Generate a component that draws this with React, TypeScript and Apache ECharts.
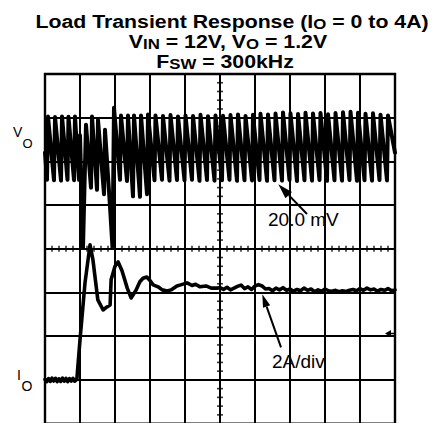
import React, { useEffect, useRef } from "react";
import * as echarts from "echarts";

// ---- Data (x in time divisions 0..10) ----
// V_O trace: [time (div), deviation (mV)] at 20 mV/div
const VO_TRACE: [number, number][] = [
  [0.0, 4], [0.057, -8.4], [0.086, 20.5], [0.257, -8.6], [0.286, 20.3], [0.457, -8.8], [0.486, 20.6],
  [0.643, -8.4], [0.671, 20.4], [0.829, -8.6], [0.857, 20.5],
  [0.971, -8.4], [1.0, 12], [1.086, -39.5], [1.171, 16.8], [1.314, -12], [1.343, 20.5], [1.486, -13],
  [1.514, 19], [1.686, -15], [1.714, 14.5], [1.857, -20.7], [1.929, -39.5], [1.971, 24.6], [2.143, -8.4],
  [2.171, 21], [2.343, -9], [2.371, 21], [2.514, -16], [2.543, 21], [2.714, -16.2], [2.743, 21],
  [2.914, -15], [2.943, 21.5],
  [3.129, -8.6], [3.157, 21], [3.343, -8.4], [3.371, 20.8], [3.557, -8.8], [3.586, 21.2], [3.771, -8.5],
  [3.8, 20.6], [3.986, -8.7], [4.014, 21], [4.2, -8.4], [4.229, 20.8], [4.414, -8.9], [4.443, 21.3],
  [4.629, -8.5], [4.657, 20.7], [4.843, -8.8], [4.871, 21], [5.057, -8.6], [5.086, 20.9], [5.271, -8.4],
  [5.3, 21.2], [5.486, -8.9], [5.514, 21.5], [5.7, -8.6], [5.729, 20.8], [5.914, -8.7], [5.943, 21.4],
  [6.129, -8.5], [6.157, 21.8], [6.343, -8.9], [6.371, 21.5], [6.557, -8.6], [6.586, 21.9], [6.771, -8.8],
  [6.8, 22.4], [6.986, -8.5], [7.014, 22], [7.2, -9], [7.229, 21.7], [7.414, -8.6], [7.443, 22.3],
  [7.629, -8.8], [7.657, 21.9], [7.843, -8.5], [7.871, 22.2], [8.057, -8.9], [8.086, 21.6], [8.271, -8.6],
  [8.3, 22.1], [8.486, -8.8], [8.514, 22.5], [8.7, -8.5], [8.729, 22.7], [8.914, -8.9], [8.943, 22.3],
  [9.129, -8.6], [9.157, 21.8], [9.343, -8.8], [9.371, 22], [9.557, -8.5], [9.586, 21.4], [9.771, -8.7],
  [9.8, 21], [10.0, 4],
];

// I_O trace: [time (div), current (A)] at 2 A/div
const IO_TRACE: [number, number][] = [
  [0, 0.02], [0.05, -0.08], [0.1, 0.06], [0.15, -0.07], [0.2, 0.08], [0.25, -0.05], [0.3, 0.07],
  [0.35, -0.08], [0.4, 0.05], [0.45, -0.07], [0.5, 0.08], [0.55, -0.06], [0.6, 0.07], [0.65, -0.08],
  [0.7, 0.06], [0.75, -0.05], [0.8, 0.07], [0.85, -0.06], [0.91, 0.02],
  [1.0, 1.83], [1.143, 4.44], [1.286, 6.18], [1.37, 5.49], [1.51, 3.66], [1.66, 3.2], [1.77, 3.34],
  [1.86, 3.43], [1.89, 4.6], [2.0, 5.2], [2.09, 5.4], [2.2, 5.0], [2.35, 4.2], [2.46, 3.75], [2.6, 4.1],
  [2.71, 4.49], [2.8, 4.65], [2.91, 4.71], [3.0, 4.55], [3.09, 4.35], [3.23, 4.26], [3.35, 4.12],
  [3.49, 4.07], [3.6, 4.12], [3.77, 4.3], [3.9, 4.36], [4.06, 4.44], [4.2, 4.32], [4.3, 4.38],
  [4.43, 4.26], [4.6, 4.3], [4.75, 4.2], [4.91, 4.2],
  [5.0, 4.22], [5.1, 4.14], [5.2, 4.24], [5.3, 4.12], [5.4, 4.2], [5.5, 4.28], [5.6, 4.34], [5.7, 4.18],
  [5.8, 4.26], [5.9, 4.14], [6.0, 4.3], [6.1, 4.36], [6.2, 4.3], [6.3, 4.16], [6.4, 4.18], [6.5, 4.08],
  [6.6, 4.2], [6.7, 4.12], [6.8, 4.22], [6.9, 4.1], [7.0, 4.16], [7.1, 4.06], [7.2, 4.14], [7.3, 4.08],
  [7.4, 4.2], [7.5, 4.1], [7.6, 4.16], [7.7, 4.04], [7.8, 4.12], [7.9, 4.06], [8.0, 4.16], [8.1, 4.08],
  [8.2, 4.06], [8.3, 4.1], [8.4, 4.04], [8.5, 4.08], [8.6, 4.05], [8.7, 4.1], [8.8, 4.14], [8.9, 4.08],
  [9.0, 4.18], [9.1, 4.1], [9.2, 4.2], [9.3, 4.12], [9.4, 4.16], [9.5, 4.06], [9.6, 4.14], [9.7, 4.1],
  [9.8, 4.18], [9.9, 4.08], [10.0, 4.12],
];

const VO_MV_PER_DIV = 20;
const VO_REF_DIV = 2;
const IO_A_PER_DIV = 2;
const IO_REF_DIV = -3;

const TITLE_1 = "{m|Load Transient Response (I}{s|O}{m| = 0 to 4A)}";
const TITLE_2 = "{m|V}{s|IN}{m| = 12V, V}{s|O}{m| = 1.2V}";
const TITLE_3 = "{m|F}{s|SW}{m| = 300kHz}";
const VO_LABEL = "20.0 mV";
const IO_LABEL = "2A/div";

const FONT = "'Liberation Sans', Arial, Helvetica, sans-serif";

function arrow(tail: [number, number], tip: [number, number], len: number, half: number) {
  const dx = tip[0] - tail[0];
  const dy = tip[1] - tail[1];
  const d = Math.hypot(dx, dy);
  const ux = dx / d, uy = dy / d;
  const bx = tip[0] - ux * len, by = tip[1] - uy * len;
  const px = -uy, py = ux;
  return [
    { type: "line", shape: { x1: tail[0], y1: tail[1], x2: bx, y2: by }, style: { stroke: "#000", lineWidth: 2 } },
    {
      type: "polygon",
      shape: { points: [tip, [bx + px * half, by + py * half], [bx - px * half, by - py * half]] },
      style: { fill: "#000" },
    },
  ];
}

export default function App() {
  const ref = useRef<HTMLDivElement>(null);
  useEffect(() => {
    if (!ref.current) return;
    const chart = echarts.init(ref.current, null, { renderer: "svg" });

    const voData = VO_TRACE.map(([t, mv]) => [t, VO_REF_DIV + mv / VO_MV_PER_DIV]);
    const ioData = IO_TRACE.map(([t, a]) => [t, IO_REF_DIV + a / IO_A_PER_DIV]);
    const hTicks: number[][] = [];
    for (let k = 1; k < 50; k++) if (k % 5 !== 0) hTicks.push([k * 0.2, 0]);
    const vTicks: number[][] = [];
    for (let k = -19; k < 20; k++) if (k % 5 !== 0) vTicks.push([5, k * 0.2]);

    const rich = {
      m: { fontSize: 19, fontWeight: "bold", fontFamily: FONT, lineHeight: 20, color: "#000" },
      s: { fontSize: 15, fontWeight: "bold", fontFamily: FONT, lineHeight: 10, verticalAlign: "bottom", color: "#000" },
    };

    chart.setOption({
      animation: false,
      backgroundColor: "#fff",
      grid: { left: 45, top: 74, width: 350, height: 349.6, show: true, borderColor: "#000", borderWidth: 2.4, backgroundColor: "transparent" },
      xAxis: {
        type: "value", min: 0, max: 10, interval: 1,
        axisLine: { show: false }, axisTick: { show: false }, axisLabel: { show: false },
        splitLine: { show: true, lineStyle: { color: "#000", width: 2 } },
      },
      yAxis: {
        type: "value", min: -4, max: 4, interval: 1,
        axisLine: { show: false }, axisTick: { show: false }, axisLabel: { show: false },
        splitLine: { show: true, lineStyle: { color: "#000", width: 1.8 } },
      },
      series: [
        {
          type: "scatter", data: hTicks, symbol: "rect", symbolSize: [1.6, 6], silent: true,
          itemStyle: { color: "#000" }, z: 1,
        },
        {
          type: "scatter", data: vTicks, symbol: "rect", symbolSize: [6, 1.6], silent: true,
          itemStyle: { color: "#000" }, z: 1,
        },
        {
          type: "line", data: voData, showSymbol: false, symbol: "none", silent: true, z: 3,
          lineStyle: { color: "#000", width: 4, join: "round", cap: "round" },
        },
        {
          type: "line", data: ioData, showSymbol: false, symbol: "none", silent: true, z: 3,
          lineStyle: { color: "#000", width: 3.6, join: "round", cap: "round" },
        },
      ],
      graphic: [
        { type: "text", x: 232, y: 11, scaleX: 1.12, originX: 0, style: { text: TITLE_1, rich, align: "center", verticalAlign: "top" } },
        { type: "text", x: 228, y: 31, scaleX: 1.12, originX: 0, style: { text: TITLE_2, rich, align: "center", verticalAlign: "top" } },
        { type: "text", x: 225, y: 51, scaleX: 1.12, originX: 0, style: { text: TITLE_3, rich, align: "center", verticalAlign: "top" } },
        { type: "text", x: 13, y: 132, style: { text: "V", font: `14px ${FONT}`, fill: "#000", align: "left", verticalAlign: "middle" } },
        { type: "text", x: 22.5, y: 143, style: { text: "O", font: `13px ${FONT}`, fill: "#000", align: "left", verticalAlign: "middle" } },
        { type: "text", x: 17, y: 375, style: { text: "I", font: `14px ${FONT}`, fill: "#000", align: "left", verticalAlign: "middle" } },
        { type: "text", x: 21.5, y: 385.5, style: { text: "O", font: `14px ${FONT}`, fill: "#000", align: "left", verticalAlign: "middle" } },
        { type: "text", x: 268, y: 219.5, z: 10, style: { text: VO_LABEL, font: `19px ${FONT}`, fill: "#000", align: "left", verticalAlign: "middle" } },
        { type: "text", x: 272, y: 361, z: 10, style: { text: IO_LABEL, font: `19px ${FONT}`, fill: "#000", align: "left", verticalAlign: "middle" } },
        ...arrow([307, 214], [278.3, 184.3], 15, 4.5),
        ...arrow([281, 347.3], [262.3, 294.3], 13, 3.8),
        { type: "polygon", shape: { points: [[385, 333.5], [391, 330], [391, 337]] }, style: { fill: "#000" } },
        { type: "line", shape: { x1: 390, y1: 333.5, x2: 395, y2: 333.5 }, style: { stroke: "#000", lineWidth: 1.5 } },
      ],
    });
    return () => chart.dispose();
  }, []);
  return (
    <div
      ref={ref}
      style={{ position: "fixed", left: 0, top: 0, width: 436, height: 430, background: "#fff" }}
    />
  );
}
